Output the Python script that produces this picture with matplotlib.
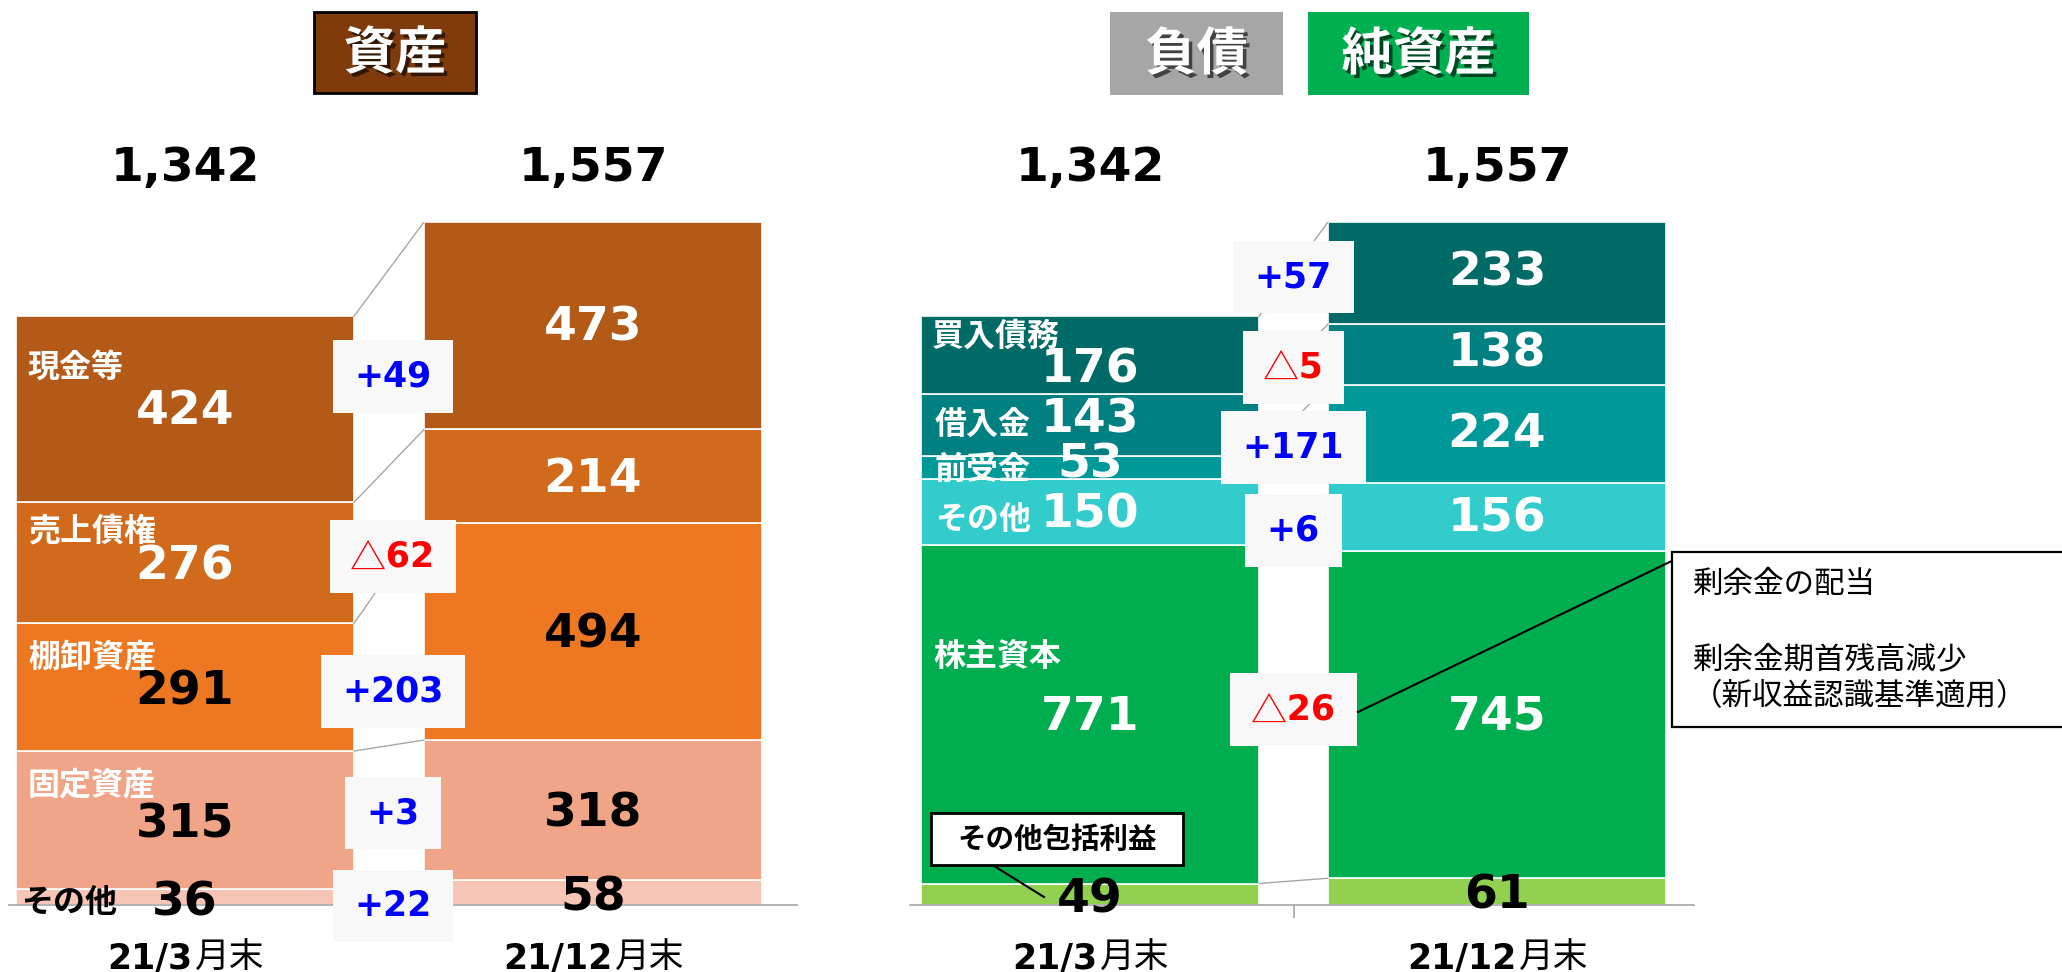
import matplotlib
matplotlib.use("Agg")
import matplotlib.pyplot as plt
import matplotlib.patheffects as pe
from matplotlib.patches import Rectangle
from matplotlib.lines import Line2D
from matplotlib.transforms import Affine2D

NUM = ['DejaVu Sans']
JP = ['Noto Sans CJK JP', 'DejaVu Sans']
plt.rcParams['font.family'] = ['DejaVu Sans', 'Noto Sans CJK JP']

# ---- data (億円) ----
period_num = ['21/3', '21/12']
period_jp = '月末'

asset_names = ['その他', '固定資産', '棚卸資産', '売上債権', '現金等']
asset_mar = [36, 315, 291, 276, 424]
asset_dec = [58, 318, 494, 214, 473]
asset_colors = ['#F6C5B5', '#F1A588', '#EE7822', '#D26A1C', '#B45A18']

liab_names = ['その他包括利益', '株主資本', 'その他', '前受金', '借入金', '買入債務']
liab_mar = [49, 771, 150, 53, 143, 176]
liab_dec = [61, 745, 156, 224, 138, 233]
liab_colors = ['#92D050', '#00AD4F', '#33CCCC', '#009999', '#008080', '#006A66']

note_lines = ['剰余金の配当', '剰余金期首残高減少', '（新収益認識基準適用）']

# ---- layout (pixels of the 2062x972 canvas) ----
W, H = 2062, 972
BASE, TOP = 905, 222
YMAX = max(sum(asset_dec), sum(liab_dec))
fig = plt.figure(figsize=(W / 100, H / 100), dpi=100)
pxT = Affine2D().scale(1 / W, -1 / H).translate(0, 1) + fig.transFigure
GRAY = '#A6A6A6'


def ydata(py):
    return (BASE - py) * YMAX / (BASE - TOP)


def pt(px):
    return px * 0.72


def draw_panel(x0, x1, c0, c1, width_px, names, v1, v2, colors, lay):
    ax = fig.add_axes([x0 / W, (H - BASE) / H, (x1 - x0) / W, (BASE - TOP) / H])
    unit = c1 - c0
    ax.set_xlim((x0 - c0) / unit, (x1 - c0) / unit)
    ax.set_ylim(0, YMAX)
    w = width_px / unit
    for s in ['top', 'left', 'right']:
        ax.spines[s].set_visible(False)
    ax.spines['bottom'].set_color(GRAY)
    ax.spines['bottom'].set_linewidth(1.2)
    ax.set_yticks([])
    ax.set_xticks([0.5])
    ax.tick_params(axis='x', length=pt(13), width=1.2, color=GRAY, labelbottom=False)

    b1 = b2 = 0
    for i, name in enumerate(names):
        ax.bar(0, v1[i], w, bottom=b1, color=colors[i], edgecolor='white', linewidth=1.2, zorder=2)
        ax.bar(1, v2[i], w, bottom=b2, color=colors[i], edgecolor='white', linewidth=1.2, zorder=2)
        m1 = b1 + v1[i] / 2
        m2 = b2 + v2[i] / 2
        b1 += v1[i]
        b2 += v2[i]
        # connector between segment tops
        ax.add_line(Line2D([w / 2, 1 - w / 2], [b1, b2], color=GRAY, lw=1, zorder=3))

        ax.annotate(str(v1[i]), (0, m1), xytext=(0, -pt(lay['vdy1'][i])), textcoords='offset points',
                    ha='center', va='center', fontsize=34, fontweight='bold', family=NUM,
                    color=lay['vcol'][i], zorder=6, annotation_clip=False)
        ax.annotate(str(v2[i]), (1, m2), xytext=(0, -pt(lay['vdy2'][i])), textcoords='offset points',
                    ha='center', va='center', fontsize=34, fontweight='bold', family=NUM,
                    color=lay['vcol'][i], zorder=6, annotation_clip=False)
        if lay['cdy'][i] is not None:
            cx = (lay['cx'][i] - c0) / unit
            ax.annotate(name, (cx, m1), xytext=(0, -pt(lay['cdy'][i] + 5)), textcoords='offset points',
                        ha='left', va='center', fontsize=23, fontweight='bold', family=JP,
                        color=lay['ccol'][i], zorder=6, annotation_clip=False)

        d = v2[i] - v1[i]
        if lay['ddy'][i] is not None:
            # em space leaves room for a thin-stroked triangle on decreases
            txt = f'+{d}' if d >= 0 else '\u2003' + str(-d)
            anchor = m1 if lay['danchor'] == 0 else m2
            col = '#0000FF' if d >= 0 else '#FF0000'
            t = ax.annotate(txt, (0.5, anchor), xytext=(pt(lay['ddx']), -pt(lay['ddy'][i])),
                            textcoords='offset points', ha='center', va='center', fontsize=25,
                            fontweight='bold', family=NUM, color=col,
                            zorder=8, annotation_clip=False,
                            bbox=dict(boxstyle='square,pad=0.62', mutation_aspect=0.9,
                                      fc='#F8F8F8', ec='none'))
            if d < 0:
                ax.annotate('△', (0, 0.5), xycoords=t, xytext=(-1, -2), textcoords='offset points',
                            ha='left', va='center', fontsize=26, family=JP, color=col,
                            zorder=9, annotation_clip=False)

    # totals above the bars
    for x, tot in [(0, sum(v1)), (1, sum(v2))]:
        ax.text(x, ydata(168), f'{tot:,}', ha='center', va='center', fontsize=34,
                fontweight='bold', family=NUM, clip_on=False)

    # period labels: bold number + regular 月末
    r = fig.canvas.get_renderer()
    for x, lab in [(0, period_num[0]), (1, period_num[1])]:
        t1 = ax.text(x, ydata(968), lab, ha='right', va='baseline', fontsize=25,
                     fontweight='bold', family=NUM, clip_on=False)
        t2 = ax.text(x, ydata(968), period_jp, ha='left', va='baseline', fontsize=25,
                     family=JP, clip_on=False)
        w1 = t1.get_window_extent(r).width
        w2 = t2.get_window_extent(r).width
        shift = (w1 - w2) / 2 / unit
        t1.set_x(x + shift)
        t2.set_x(x + shift + 2 / unit)
    return ax


axL = draw_panel(9, 797, 185, 593, 338, asset_names, asset_mar, asset_dec, asset_colors, dict(
    vdy1=[6, 5, 5, 4, 2], vdy2=[6, 4, 3, 3, 2],
    vcol=['black', 'black', 'black', 'white', 'white'],
    cx=[21, 28, 28, 28, 28], cdy=[1, -40, -35, -36, -47],
    ccol=['black', 'white', 'white', 'white', 'white'],
    danchor=0, ddx=4, ddy=[9, -7, 4, -6, -33]))

axR = draw_panel(910, 1694, 1090, 1497, 338, liab_names, liab_mar, liab_dec, liab_colors, dict(
    vdy1=[6, 3, 3, -3, -5, 15], vdy2=[4, 2, 2, 1, 0, 0],
    vcol=['black', 'white', 'white', 'white', 'white', 'white'],
    cx=[933, 933, 935, 935, 935, 932], cdy=[None, -62, 3, -3, -5, -23],
    ccol=['white'] * 6,
    danchor=1, ddx=0, ddy=[None, -5, 13, 14, 13, 4]))

# ---- header boxes ----
headers = [('資産', 314, 476, 12, 93, '#7F3B0C', 'black'),
           ('負債', 1110, 1283, 12, 95, '#A6A6A6', 'none'),
           ('純資産', 1308, 1529, 12, 95, '#00B050', 'none')]
for label, hx0, hx1, hy0, hy1, fc, ec in headers:
    fig.patches.append(Rectangle((hx0, hy1), hx1 - hx0, hy0 - hy1, transform=pxT,
                                 fc=fc, ec=ec, lw=2))
    fig.text((hx0 + hx1) / 2, (hy0 + hy1) / 2 + 1, label, transform=pxT, ha='center', va='center',
             fontsize=37, fontweight='bold', family=JP, color='white',
             path_effects=[pe.withSimplePatchShadow(offset=(2.5, -2.5), shadow_rgbFace='black', alpha=0.6)])

# ---- callout for その他包括利益 ----
fig.patches.append(Rectangle((931, 865), 252, -52, transform=pxT, fc='white', ec='black', lw=2, zorder=9))
fig.text(1057, 840, liab_names[0], transform=pxT, ha='center', va='center', fontsize=20.5,
         fontweight='bold', family=JP, zorder=10)
fig.add_artist(Line2D([994, 1044], [866, 897], transform=pxT, color='black', lw=1.5, zorder=9))

# ---- note box for 株主資本 change ----
fig.patches.append(Rectangle((1672, 727), 420, -175, transform=pxT, fc='white', ec='black', lw=1.6, zorder=9))
for line, ly in zip(note_lines, [584, 660, 697]):
    fig.text(1692, ly, line, transform=pxT, ha='left', va='center', fontsize=22, family=JP, zorder=10)
fig.add_artist(Line2D([1358, 1678], [712, 558], transform=pxT, color='black', lw=1.5, zorder=9))

fig.savefig('out.png', dpi=100)
